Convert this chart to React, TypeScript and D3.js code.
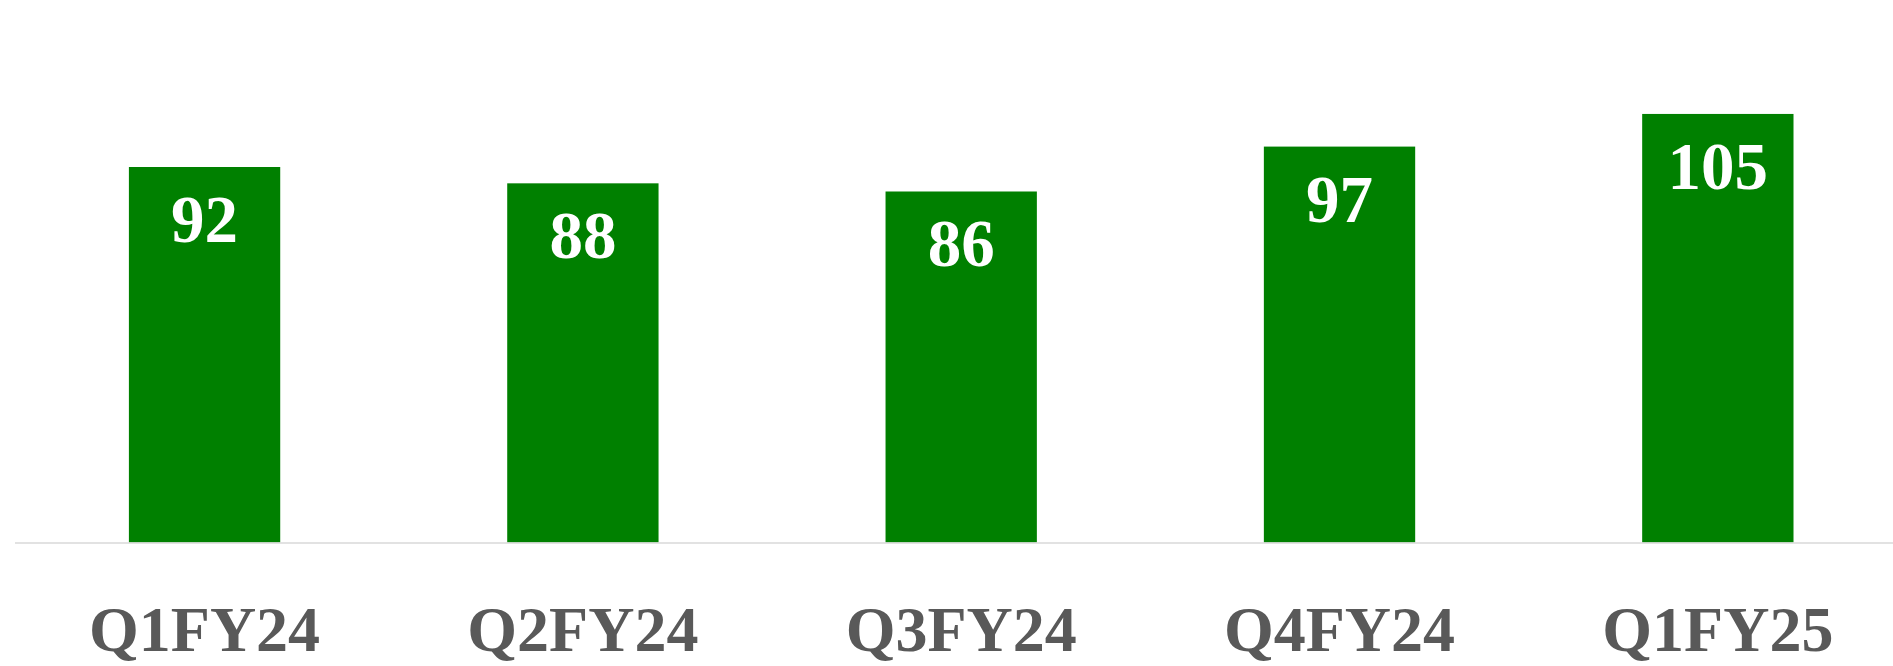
import React, { useRef, useEffect } from 'react';
import * as d3 from 'd3';

const categories = ['Q1FY24', 'Q2FY24', 'Q3FY24', 'Q4FY24', 'Q1FY25'];
const values = [92, 88, 86, 97, 105];

const WIDTH = 1893;
const HEIGHT = 666;

const App: React.FC = () => {
  const svgRef = useRef<SVGSVGElement>(null);

  useEffect(() => {
    if (!svgRef.current) return;
    const svg = d3.select(svgRef.current);
    svg.selectAll('*').remove();

    const baseline = 542.5;

    // chart runs a little past the right edge, like the original crop
    const x = d3.scaleBand()
      .domain(categories)
      .range([15.4, 1907])
      .paddingInner(0.6)
      .paddingOuter(0.3);

    const y = d3.scaleLinear()
      .domain([0, 120])
      .range([baseline, baseline - 120 * 4.0815]);

    const data = categories.map((c, i) => ({ c, v: values[i] }));

    // Bars
    svg.selectAll('.bar')
      .data(data)
      .enter().append('rect')
      .attr('class', 'bar')
      .attr('x', d => x(d.c) || 0)
      .attr('y', d => y(d.v))
      .attr('width', x.bandwidth())
      .attr('height', d => baseline - y(d.v))
      .attr('fill', '#008000');

    // Baseline axis
    svg.append('line')
      .attr('x1', 15)
      .attr('x2', WIDTH)
      .attr('y1', baseline + 0.5)
      .attr('y2', baseline + 0.5)
      .attr('stroke', '#d9d9d9')
      .attr('stroke-width', 1.5);

    // Value labels inside bars
    svg.selectAll('.value')
      .data(data)
      .enter().append('text')
      .attr('class', 'value')
      .attr('x', d => (x(d.c) || 0) + x.bandwidth() / 2)
      .attr('y', d => y(d.v) + 75)
      .attr('text-anchor', 'middle')
      .text(d => d.v)
      .style('fill', '#ffffff')
      .style('font-family', '"Liberation Serif", serif')
      .style('font-weight', 'bold')
      .style('font-size', '67px');

    // Category labels
    svg.selectAll('.cat')
      .data(data)
      .enter().append('text')
      .attr('class', 'cat')
      .attr('x', d => (x(d.c) || 0) + x.bandwidth() / 2)
      .attr('y', 651)
      .attr('text-anchor', 'middle')
      .text(d => d.c)
      .style('fill', '#595959')
      .style('font-family', '"Liberation Serif", serif')
      .style('font-weight', 'bold')
      .style('font-size', '64px');
  }, []);

  return (
    <div>
      <style>{'body { margin: 0; background: #ffffff; }'}</style>
      <svg ref={svgRef} width={WIDTH} height={HEIGHT} style={{ display: 'block' }}></svg>
    </div>
  );
};

export default App;
